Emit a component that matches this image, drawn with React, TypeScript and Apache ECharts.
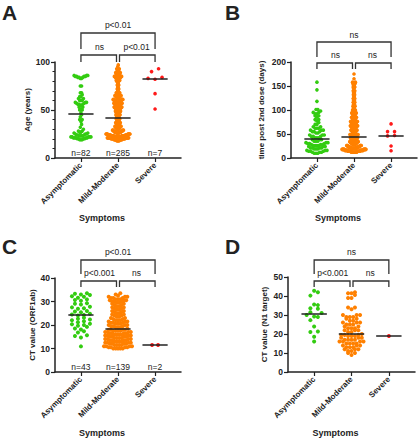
import React, { useEffect, useRef } from "react";
import * as echarts from "echarts";

const categories = ["Asymptomatic", "Mild-Moderate", "Severe"];
const groupColors = ["#33cc11", "#ff8000", "#ff1a1a"];

// Panel A: Age (years) — [value, count]
const ageAsymptomatic = [
  [86, 3], [85, 4], [84, 3], [83, 2], [75, 2], [68, 2], [66, 1], [64, 2], [62, 2], [60, 3],
  [58, 3], [57, 2], [56, 3], [55, 2], [53, 2], [51, 2], [50, 2], [47, 1],
  [45, 1], [43, 1], [40, 2], [38, 1], [35, 1], [32, 1], [30, 1], [28, 2], [27, 2], [26, 2],
  [25, 3], [24, 3], [23, 4], [22, 5], [21, 5], [20, 4], [19, 3],
];
const ageMildModerate = [
  [97, 1], [95, 1], [93, 2], [91, 2], [90, 2], [89, 2], [88, 2], [87, 2], [86, 4], [85, 4],
  [84, 4], [83, 4], [82, 3], [81, 3], [80, 3], [78, 2], [76, 2], [74, 2], [72, 2], [70, 2],
  [68, 4], [66, 4], [65, 4], [64, 4], [62, 5], [61, 5], [60, 5], [59, 5], [58, 5], [57, 5],
  [56, 4], [55, 4], [54, 4], [53, 4], [52, 4], [51, 4], [50, 4], [49, 2], [48, 3], [47, 3],
  [46, 3], [45, 3], [44, 3], [43, 2], [42, 1],
  [41, 2], [40, 2], [39, 2], [38, 2], [37, 2], [36, 2], [35, 3], [34, 3], [33, 3], [32, 3],
  [31, 3], [30, 4], [29, 4], [28, 5], [27, 6], [26, 7], [25, 9], [24, 11], [23, 13], [22, 14],
  [21, 14], [20, 12], [19, 10], [18, 6],
];
const ageSevere = [[93, 1], [90, 1], [84, 1], [83, 1], [82, 1], [67, 1], [51, 1]];

// Panel B: time post 2nd dose (days)
const daysAsymptomatic = [
  [158, 1], [142, 1], [118, 1], [101, 2], [98, 1], [95, 2], [92, 2], [88, 2], [85, 1], [80, 2],
  [77, 1], [74, 1], [70, 2], [65, 2], [62, 3], [58, 3], [55, 3], [52, 2], [48, 3], [45, 3], [42, 3],
  [38, 3], [35, 3], [32, 3], [30, 3], [28, 3], [26, 4], [24, 3], [21, 4], [19, 3], [16, 3],
  [14, 3], [12, 3], [10, 3],
];
const daysMildModerate = [
  [175, 1], [165, 1], [158, 2], [155, 3], [152, 3], [148, 3], [145, 2], [140, 2], [136, 3],
  [132, 2], [128, 2], [124, 2], [120, 3], [116, 2], [112, 3], [108, 3], [104, 3], [100, 4],
  [97, 4], [94, 4], [91, 4], [88, 4], [85, 4], [82, 4], [79, 5], [76, 5], [73, 6], [70, 7],
  [67, 7], [64, 6], [61, 6], [58, 6], [55, 5], [52, 5], [49, 5], [48, 3], [47, 4], [46, 4],
  [45, 1],
  [44, 4], [42, 4], [40, 5], [38, 5], [36, 5], [34, 5], [32, 5], [30, 6], [28, 6], [26, 7],
  [24, 8], [22, 10], [20, 12], [18, 14], [16, 16], [14, 16], [12, 14],
];
const daysSevere = [[71, 1], [55, 2], [47, 1], [46, 1], [25, 1], [15, 1]];

// Panel C: CT value (ORF1ab)
const orfAsymptomatic = [
  33.5, 33.3, 33.0, 32.8, 32.2, 32.0, 31.6, 30.9, 30.6, 30.3, 29.3, 29.0, 28.7, 27.8, 27.5,
  27.1, 26.9, 26.0, 25.7, 25.4, 24.8, 24.5, 24.3, 24.0, 23.1, 22.7, 22.3, 22.0, 21.6, 21.2,
  20.5, 20.3, 20.0, 19.7, 19.2, 18.5, 18.1, 17.3, 16.8, 15.6, 15.3, 14.7, 10.9,
].map((v) => [v, 1]);
const orfMildModerate = [
  [33.5, 1], [33, 1], [32.5, 1], [32, 3], [31.5, 3], [31, 3], [30.5, 3], [30, 3],
  [29.5, 2], [29, 2], [28.5, 2], [28, 2], [27.5, 2], [27, 2], [26.5, 2], [26, 2], [25.5, 2],
  [25, 2], [24.5, 2], [24, 2], [23.5, 2], [23, 2], [22.5, 2],
  [22, 3], [21.5, 3], [21, 3], [20.5, 3], [20, 3], [19.5, 3], [19, 3], [18.5, 1],
  [18, 4], [17.5, 4], [17, 4], [16.5, 4], [16, 4], [15.5, 4], [15, 4], [14.5, 4], [14, 4],
  [13.5, 4], [13, 4], [12.5, 4], [12, 4], [11.5, 4], [11, 4], [10.5, 4], [10, 5],
];
const orfSevere = [[11.5, 2]];

// Panel D: CT value (N1 target)
const n1Asymptomatic = [
  42.8, 42.0, 40.2, 35.5, 35.2, 33.6, 33.3, 31.5, 31.0, 30.0, 29.2, 28.9, 27.3, 23.9, 21.3,
  21.0, 18.6, 16.0,
].map((v) => [v, 1]);
const n1MildModerate = [
  [42, 1], [41.5, 2], [40.5, 1], [39, 2], [34, 2], [33, 1], [30, 3], [29, 3], [28, 2], [27, 2],
  [26, 3], [25, 3], [24, 2], [23, 3], [22, 3], [21, 2], [20, 1],
  [19.5, 3], [19, 3], [18, 3], [17, 4], [16, 4], [15, 4], [14, 3], [13, 3], [12, 3], [11, 2],
  [10, 2], [9, 1],
];
const n1Severe = [[19, 1]];

// Significance labels: [overall (Asym vs Severe), Asym vs Mild, Mild vs Severe]
const sigA = ["p<0.01", "ns", "p<0.01"];
const sigB = ["ns", "ns", "ns"];
const sigC = ["p<0.01", "p<0.001", "ns"];
const sigD = ["ns", "p<0.001", "ns"];

const FONT = '"Liberation Sans", Arial, Helvetica, sans-serif';
const INK = "#222";

const panels = [
  {
    letter: "A", groups: [ageAsymptomatic, ageMildModerate, ageSevere], sig: sigA,
    yName: "Age (years)", yMax: 100, yInterval: 50, minor: true, showN: true,
    grid: { left: 55, top: 62, width: 126, height: 96 }, nameGap: 21,
    binPx: 3, s0: 7, maxW: [20, 24, 14],
    br: { topLabel: 25, topLine: 33, topDrop: 49, lowLabel: 47, lowLine: 55, lowDrop: 62 },
    letterPos: [2, 12], nY: 153, symY: 218,
  },
  {
    letter: "B", groups: [daysAsymptomatic, daysMildModerate, daysSevere], sig: sigB,
    yName: "time post 2nd dose (days)", yMax: 200, yInterval: 50, minor: false, showN: false,
    grid: { left: 291, top: 62, width: 126, height: 96 }, nameGap: 26,
    binPx: 3, s0: 7, maxW: [22, 24, 14],
    br: { topLabel: 35, topLine: 42, topDrop: 57, lowLabel: 55, lowLine: 63, lowDrop: 69 },
    letterPos: [225, 12], nY: 153, symY: 218,
  },
  {
    letter: "C", groups: [orfAsymptomatic, orfMildModerate, orfSevere], sig: sigC,
    yName: "CT value (ORF1ab)", yMax: 40, yInterval: 10, minor: false, showN: true,
    grid: { left: 55, top: 278, width: 126, height: 94 }, nameGap: 19,
    binPx: 3, s0: 6, maxW: [20, 28, 14],
    br: { topLabel: 252, topLine: 260, topDrop: 274, lowLabel: 273, lowLine: 281, lowDrop: 287 },
    letterPos: [2, 246], nY: 367, symY: 433,
  },
  {
    letter: "D", groups: [n1Asymptomatic, n1MildModerate, n1Severe], sig: sigD,
    yName: "CT value (N1 target)", yMax: 50, yInterval: 10, minor: false, showN: false,
    grid: { left: 288, top: 277, width: 127, height: 95 }, nameGap: 20,
    binPx: 3.5, s0: 7.5, maxW: [22, 24, 14],
    br: { topLabel: 252, topLine: 260, topDrop: 274, lowLabel: 273, lowLine: 281, lowDrop: 287 },
    letterPos: [225, 246], nY: 367, symY: 433,
  },
];

const X_MIN = -0.7;
const X_MAX = 2.7;

function expand(pairs: number[][]): number[] {
  const out: number[] = [];
  pairs.forEach(([v, c]) => {
    for (let i = 0; i < c; i++) out.push(v);
  });
  return out.sort((a, b) => a - b);
}

function median(vals: number[]): number {
  const n = vals.length;
  return n % 2 ? vals[(n - 1) / 2] : (vals[n / 2 - 1] + vals[n / 2]) / 2;
}

// deterministic column-scatter layout (rows of nearby values spread sideways)
function swarm(vals: number[], cat: number, pxPerY: number, pxPerX: number, binPx: number, s0: number, maxW: number) {
  const binU = binPx / pxPerY;
  const bins: number[][] = [];
  let start = -Infinity;
  vals.forEach((v) => {
    if (v - start > binU || bins.length === 0) {
      bins.push([v]);
      start = v;
    } else bins[bins.length - 1].push(v);
  });
  const maxCount = Math.max(...bins.map((b) => b.length));
  const s = Math.min(s0, maxCount > 1 ? maxW / (maxCount - 1) : s0);
  const pts: number[][] = [];
  bins.forEach((b) => {
    const k = b.length;
    const pos: number[] = [];
    for (let j = 0; j < k; j++) pos.push((j - (k - 1) / 2) * s);
    pos.sort((a, c) => Math.abs(a) - Math.abs(c) || a - c);
    b.forEach((v, idx) => pts.push([cat + pos[idx] / pxPerX, v]));
  });
  return pts;
}

export default function App() {
  const ref = useRef<HTMLDivElement>(null);
  useEffect(() => {
    const chart = echarts.init(ref.current!, null, { renderer: "svg" });
    const series: any[] = [];
    panels.forEach((p, g) => {
      const pxPerY = p.grid.height / p.yMax;
      const pxPerX = p.grid.width / (X_MAX - X_MIN);
      p.groups.forEach((pairs, i) => {
        const vals = expand(pairs);
        const med = median(vals);
        series.push({
          type: "scatter",
          xAxisIndex: g,
          yAxisIndex: g,
          symbolSize: g >= 2 ? 4 : 3.6,
          itemStyle: { color: groupColors[i], opacity: 1 },
          data: swarm(vals, i, pxPerY, pxPerX, p.binPx, p.s0, p.maxW[i]),
          silent: true,
          markLine: {
            silent: true,
            symbol: ["none", "none"],
            label: { show: false },
            lineStyle: { color: INK, width: 1.5, type: "solid" },
            data: [[{ coord: [i - 0.34, med] }, { coord: [i + 0.34, med] }]],
          },
        });
      });
    });

    const option: any = {
      animation: false,
      backgroundColor: "#fff",
      grid: panels.map((p) => ({ ...p.grid, containLabel: false })),
      xAxis: panels.map((p, g) => ({
        type: "value",
        gridIndex: g,
        min: X_MIN,
        max: X_MAX,
        splitLine: { show: false },
        axisLine: { show: true, onZero: false, lineStyle: { color: INK, width: 1.5 } },
        axisTick: { show: true, customValues: [0, 1, 2], length: 4, lineStyle: { color: INK, width: 1.2 } },
        axisLabel: {
          show: true,
          customValues: [0, 1, 2],
          formatter: (v: number) => categories[Math.round(v)] ?? "",
          rotate: 45,
          fontSize: 8,
          fontWeight: "bold",
          fontFamily: FONT,
          color: INK,
          margin: 6,
        },
      })),
      yAxis: panels.map((p, g) => ({
        type: "value",
        gridIndex: g,
        min: 0,
        max: p.yMax,
        interval: p.yInterval,
        name: p.yName,
        nameLocation: "middle",
        nameGap: p.nameGap,
        nameRotate: 90,
        nameTextStyle: { fontSize: 8, fontWeight: "bold", color: INK, fontFamily: FONT },
        axisLine: { show: true, onZero: false, lineStyle: { color: INK, width: 1.5 } },
        axisTick: { show: true, length: 4, lineStyle: { color: INK, width: 1.2 } },
        minorTick: { show: p.minor, splitNumber: 5, length: 2.5, lineStyle: { color: INK, width: 1 } },
        axisLabel: { fontSize: 8.5, fontWeight: "bold", color: INK, fontFamily: FONT, margin: 5 },
        splitLine: { show: false },
        minorSplitLine: { show: false },
      })),
      series,
    };
    chart.setOption(option);

    const gfx: any[] = [];
    const txt = (x: number, y: number, text: string, font: string, align = "center") => ({
      type: "text",
      x,
      y,
      style: { text, font, fill: INK, textAlign: align, textVerticalAlign: "middle" },
    });
    panels.forEach((p, g) => {
      const xs = [0, 1, 2].map((i) => (chart.convertToPixel({ gridIndex: g }, [i, 0]) as number[])[0]);
      const b = p.br;
      const line = (pts: number[][]) => ({
        type: "polyline",
        shape: { points: pts },
        style: { stroke: "#333", lineWidth: 1.3, fill: "none" },
      });
      gfx.push(line([[xs[0], b.topDrop], [xs[0], b.topLine], [xs[2], b.topLine], [xs[2], b.topDrop]]));
      gfx.push(line([[xs[0], b.lowDrop], [xs[0], b.lowLine], [xs[1] - 1.5, b.lowLine], [xs[1] - 1.5, b.lowDrop]]));
      gfx.push(line([[xs[1] + 1.5, b.lowDrop], [xs[1] + 1.5, b.lowLine], [xs[2], b.lowLine], [xs[2], b.lowDrop]]));
      const f = `8.5px ${FONT}`;
      gfx.push(txt(xs[1], b.topLabel, p.sig[0], f));
      gfx.push(txt((xs[0] + xs[1]) / 2, b.lowLabel, p.sig[1], f));
      gfx.push(txt((xs[1] + xs[2]) / 2, b.lowLabel, p.sig[2], f));
      if (p.showN) {
        p.groups.forEach((pairs, i) => {
          gfx.push(txt(xs[i], p.nY, `n=${expand(pairs).length}`, f));
        });
      }
      gfx.push(txt(p.grid.left + p.grid.width / 2 - 16, p.symY, "Symptoms", `bold 9px ${FONT}`));
      gfx.push(txt(p.letterPos[0], p.letterPos[1], p.letter, `bold 21px ${FONT}`, "left"));
    });
    chart.setOption({ graphic: gfx });

    return () => chart.dispose();
  }, []);
  return (
    <div
      ref={ref}
      style={{ position: "fixed", left: 0, top: 0, width: 420, height: 440, background: "#fff" }}
    />
  );
}
